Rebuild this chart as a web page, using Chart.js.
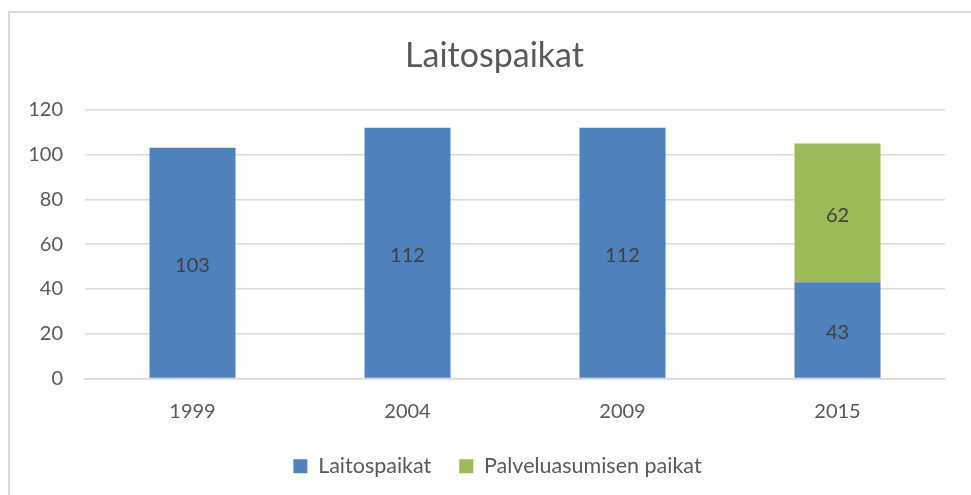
<!DOCTYPE html>
<html>
<head>
<meta charset="utf-8">
<script src="https://cdn.jsdelivr.net/npm/chart.js@4"></script>
<style>
  html, body { margin: 0; padding: 0; background: #fff; overflow: hidden; }
  #wrap { position: relative; width: 971px; height: 495px; }
  #frame { position: absolute; left: 8px; top: 11px; width: 990px; height: 520px; border: 2px solid #d9d9d9; box-sizing: border-box; pointer-events: none; }
</style>
</head>
<body>
<div id="wrap">
  <canvas id="chart" width="971" height="495"></canvas>
  <div id="frame"></div>
</div>
<script>
const years = ["1999", "2004", "2009", "2015"];
const laitospaikat = [103, 112, 112, 43];
const palveluasuminen = [null, null, null, 62];
const yTicks = [0, 20, 40, 60, 80, 100, 120];

const FONT = "Lato, 'Open Sans', sans-serif";
const GRAY = "#595959";

// draws the value in the middle of each bar segment
const barLabels = {
  id: "barLabels",
  afterDatasetsDraw(chart) {
    const c = chart.ctx;
    c.save();
    c.font = "20px " + FONT;
    c.fillStyle = "#404040";
    c.textAlign = "center";
    c.textBaseline = "middle";
    chart.data.datasets.forEach(function (ds, i) {
      chart.getDatasetMeta(i).data.forEach(function (bar, j) {
        var v = ds.data[j];
        if (v == null) return;
        c.fillText(String(v), bar.x, (bar.y + bar.base) / 2 + 3);
      });
    });
    c.restore();
  },
};

// title and legend sit a bit right of the canvas middle in the original
const nudge = {
  id: "nudge",
  afterLayout(chart) {
    chart.titleBlock.left += 12;
    chart.titleBlock.right += 12;
    chart.legend.left += 15;
    chart.legend.right += 15;
  },
};

const ctx = document.getElementById("chart").getContext("2d");
var myChart = new Chart(ctx, {
  type: "bar",
  data: {
    labels: years,
    datasets: [
      {
        label: "Laitospaikat",
        data: laitospaikat,
        backgroundColor: "#4f81bd",
        categoryPercentage: 1,
        barPercentage: 0.4,
      },
      {
        label: "Palveluasumisen paikat",
        data: palveluasuminen,
        backgroundColor: "#9bbb59",
        categoryPercentage: 1,
        barPercentage: 0.4,
      },
    ],
  },
  options: {
    responsive: false,
    animation: false,
    layout: { padding: { top: 36, left: 20, right: 26, bottom: 8 } },
    plugins: {
      title: {
        display: true,
        text: "Laitospaikat",
        color: GRAY,
        font: { family: FONT, size: 34, weight: "normal" },
        padding: { top: 0, bottom: 33 },
      },
      legend: {
        position: "bottom",
        labels: {
          color: GRAY,
          font: { family: FONT, size: 21.5 },
          boxWidth: 14,
          boxHeight: 14,
          padding: 28,
        },
      },
      tooltip: { enabled: false },
    },
    scales: {
      x: {
        stacked: true,
        grid: { display: false },
        border: { color: "#d9d9d9", width: 1.5 },
        ticks: { color: GRAY, font: { family: FONT, size: 20 }, padding: 13 },
        afterFit: function (s) { s.height = 49; },
      },
      y: {
        stacked: true,
        min: 0,
        max: 120,
        afterBuildTicks: function (s) { s.ticks = yTicks.map(function (v) { return { value: v }; }); },
        grid: { color: "#d9d9d9", lineWidth: 1.5, drawTicks: false },
        border: { display: false },
        ticks: { color: GRAY, font: { family: FONT, size: 20 }, padding: 22 },
        afterFit: function (s) { s.width = 65; },
      },
    },
  },
  plugins: [barLabels, nudge],
});
</script>
</body>
</html>
